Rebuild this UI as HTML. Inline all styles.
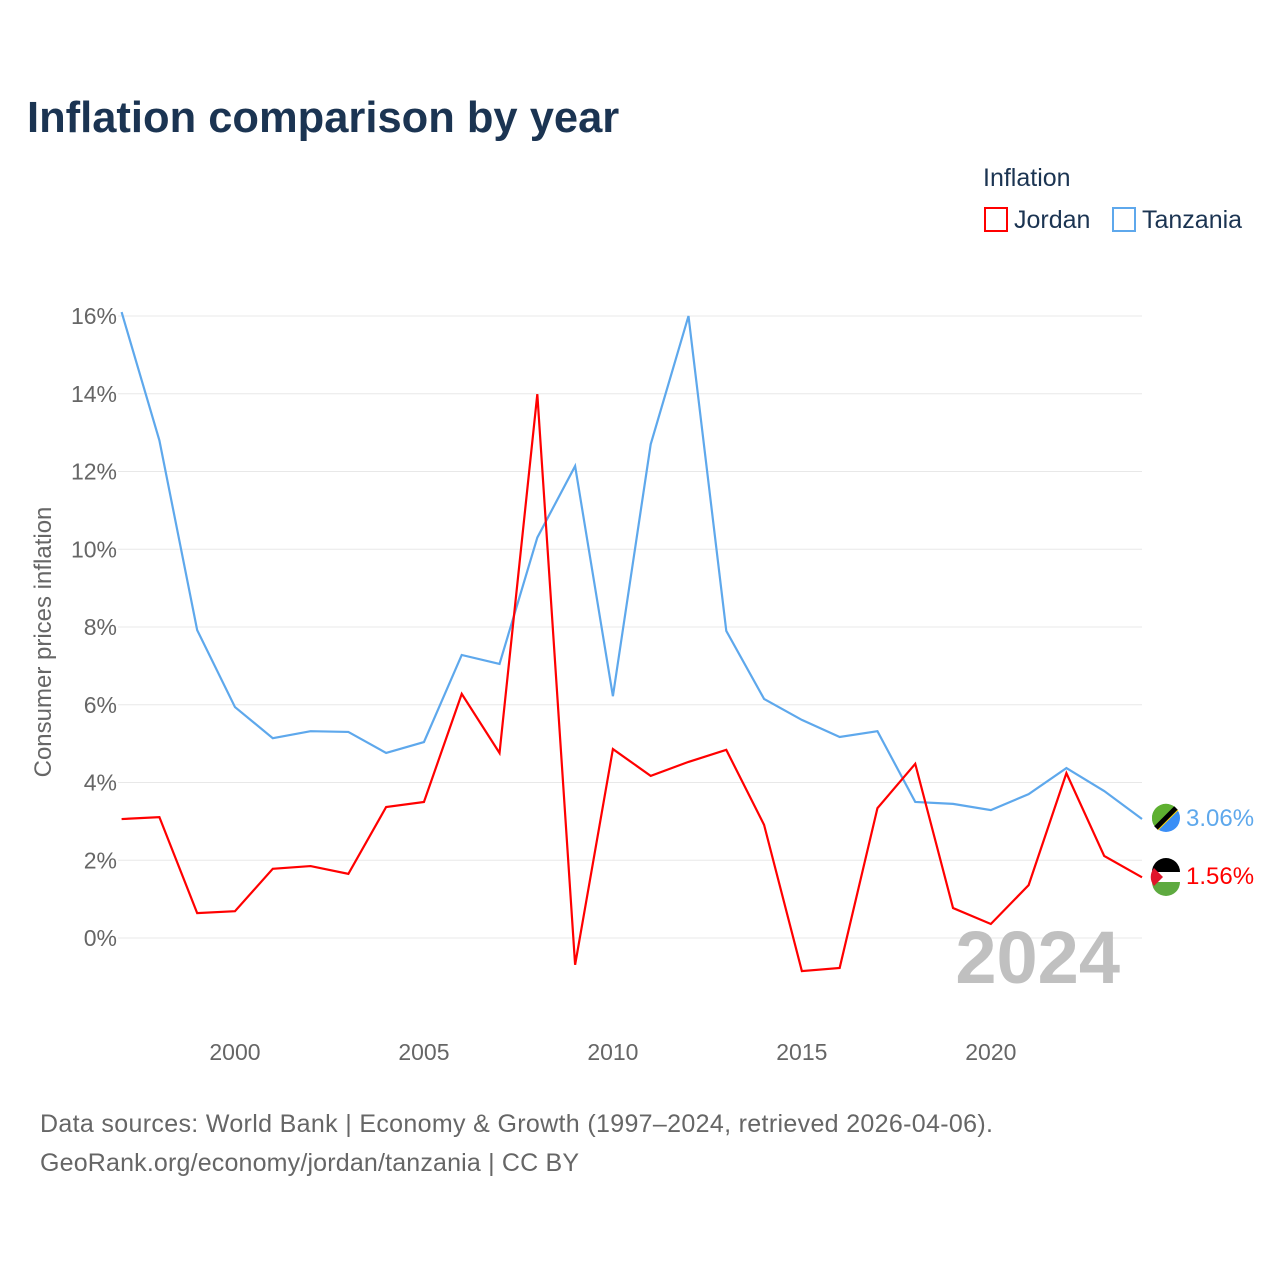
<!DOCTYPE html>
<html><head><meta charset="utf-8"><style>
body{margin:0;background:#fff;font-family:"Liberation Sans",sans-serif;}
#wrap{position:relative;width:1280px;height:1280px;overflow:hidden;}
</style></head><body>
<div id="wrap">
<svg id="chart" width="1280" height="1280" xmlns="http://www.w3.org/2000/svg">
<text x="27" y="132" font-size="43.5" font-weight="bold" fill="#1b3452">Inflation comparison by year</text>
<text x="983" y="186" font-size="25" fill="#1b3452">Inflation</text>
<g><rect x="985" y="208" width="22" height="23" fill="none" stroke="#ff0000" stroke-width="2"/><text x="1014" y="228" font-size="25" fill="#1b3452">Jordan</text></g>
<g><rect x="1113" y="208" width="22" height="23" fill="none" stroke="#5ea8ec" stroke-width="2"/><text x="1142" y="228" font-size="25" fill="#1b3452">Tanzania</text></g>
<g id="grid"></g><g id="yticks"></g><g id="xticks"></g>
<text x="1120" y="983" font-size="74" font-weight="bold" fill="#c0c0c0" text-anchor="end">2024</text>
<g id="lines"></g>
<text transform="translate(51,642) rotate(-90)" font-size="24" fill="#666" text-anchor="middle">Consumer prices inflation</text>
<g><circle cx="1166" cy="818" r="14" fill="#3a8ef6"/><path d="M1152,818 A14,14 0 0 1 1176,808 L1156,828 A14,14 0 0 1 1152,818Z" fill="#5eb030"/><line x1="1156" y1="828" x2="1176" y2="808" stroke="#000" stroke-width="5"/><line x1="1156" y1="828" x2="1176" y2="808" stroke="#ffd400" stroke-width="1" transform="translate(2,2)"/></g>
<g><circle cx="1166" cy="877" r="14" fill="#fff"/><path d="M1152,872 A14,14 0 0 1 1180,872Z" fill="#000"/><path d="M1152,882 A14,14 0 0 0 1180,882Z" fill="#5eaa40"/><path d="M1154,868 L1163,877 L1154,886 A14,14 0 0 1 1154,868Z" fill="#e0152b"/></g>
<text x="1186" y="826" font-size="24" fill="#5ea8ec">3.06%</text>
<text x="1186" y="884" font-size="24" fill="#ff0000">1.56%</text>
<text x="40" y="1132" font-size="25" fill="#666" textLength="953">Data sources: World Bank | Economy &amp; Growth (1997–2024, retrieved 2026-04-06).</text>
<text x="40" y="1171" font-size="25" fill="#666" textLength="539">GeoRank.org/economy/jordan/tanzania | CC BY</text>
</svg></div>
<script>
const years=[1997,1998,1999,2000,2001,2002,2003,2004,2005,2006,2007,2008,2009,2010,2011,2012,2013,2014,2015,2016,2017,2018,2019,2020,2021,2022,2023,2024];
const jordan=[3.06,3.11,0.64,0.69,1.78,1.85,1.65,3.37,3.50,6.28,4.76,13.99,-0.69,4.86,4.17,4.53,4.84,2.91,-0.85,-0.77,3.34,4.48,0.77,0.36,1.36,4.24,2.11,1.56];
const tanzania=[16.1,12.8,7.92,5.94,5.14,5.32,5.30,4.76,5.04,7.28,7.05,10.3,12.14,6.22,12.7,16.0,7.9,6.15,5.61,5.17,5.32,3.5,3.45,3.29,3.70,4.37,3.78,3.06];
const yTicks=[0,2,4,6,8,10,12,14,16];
const xTicks=[2000,2005,2010,2015,2020];
const NS="http://www.w3.org/2000/svg";
const xs=y=>121.6+(y-1997)*(1142-121.6)/27;
const ys=v=>938-v*38.875;
function mk(t,a,p){const e=document.createElementNS(NS,t);for(const k in a)e.setAttribute(k,a[k]);document.getElementById(p).appendChild(e);return e;}
yTicks.forEach(v=>{
 const l=mk('line',{x1:118,x2:1142,y1:ys(v),y2:ys(v),stroke:'#e8e8e8','stroke-width':1},'grid');
 
 
 const t=mk('text',{x:117,y:ys(v)+8,'font-size':23,fill:'#666','text-anchor':'end'},'yticks');
 t.textContent=v+'%';
 
 
});
xTicks.forEach(v=>{
 const t=mk('text',{x:xs(v),y:1060,'font-size':23,fill:'#666','text-anchor':'middle'},'xticks');
 t.textContent=v;
 
 
});
function line(d,c,n){
 const p=mk('polyline',{points:d.map((v,i)=>xs(years[i])+','+ys(v)).join(' '),fill:'none',stroke:c,'stroke-width':2.2,'stroke-linejoin':'miter'},'lines');
 
 
}
line(tanzania,'#5ea8ec','tanzania-line');
line(jordan,'#ff0000','jordan-line');
</script>
</body></html>
